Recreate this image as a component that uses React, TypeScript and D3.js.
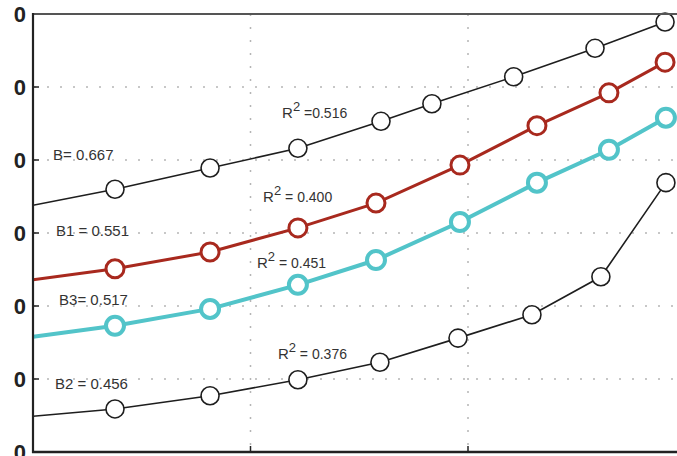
import React from "react";
import * as d3 from "d3";

const W = 677;
const H = 456;

// x positions (shared domain 0..30), first point sits on the axis (no marker)
const xTop = [0, 3.77, 8.14, 12.18, 16.0, 18.34, 22.1, 25.84, 29.06];
const yTop = [33.8, 36.0, 38.9, 41.6, 45.3, 47.7, 51.4, 55.3, 58.9];

const xRed = [0, 3.77, 8.14, 12.18, 15.77, 19.63, 23.17, 26.48, 29.06];
const yRed = [23.6, 25.1, 27.4, 30.7, 34.1, 39.3, 44.7, 49.2, 53.4];

const xCyan = [0, 3.77, 8.14, 12.18, 15.77, 19.63, 23.17, 26.48, 29.1];
const yCyan = [15.8, 17.3, 19.6, 22.9, 26.3, 31.5, 36.9, 41.4, 45.8];

const xBot = [0, 3.77, 8.14, 12.18, 15.95, 19.54, 22.94, 26.11, 29.1];
const yBot = [4.9, 5.9, 7.7, 9.9, 12.3, 15.6, 18.8, 24.0, 36.9];

const yTicks = [0, 10, 20, 30, 40, 50, 60];
const yTickLabels = ["0", "0", "0", "0", "0", "0", "0"];
const xTicks = [10, 20];

const bLabels = ["B= 0.667", "B1 = 0.551", "B3= 0.517", "B2 = 0.456"];
const bLabelY = [40.0, 29.6, 20.1, 8.6];
const bLabelX = [0.92, 1.06, 1.2, 1.01];

const rValues = ["=0.516", "= 0.400", "= 0.451", "= 0.376"];
const rLabelX = [11.45, 10.58, 10.3, 11.26];
const rLabelY = [45.75, 34.25, 25.2, 12.8];

export default function App() {
  const x = d3.scaleLinear().domain([0, 30]).range([33, 685.5]);
  const y = d3.scaleLinear().domain([0, 60]).range([452, 14]);

  const series = [
    { xs: xTop, ys: yTop, color: "#1e1e1e", lw: 1.6, mw: 1.6 },
    { xs: xRed, ys: yRed, color: "#a8291e", lw: 3, mw: 3 },
    { xs: xCyan, ys: yCyan, color: "#52c4c9", lw: 4, mw: 4 },
    { xs: xBot, ys: yBot, color: "#1e1e1e", lw: 1.6, mw: 1.6 },
  ];

  const line = d3
    .line<[number, number]>()
    .x((d) => x(d[0]))
    .y((d) => y(d[1]));

  const font = "'Liberation Sans', Arial, sans-serif";

  return (
    <svg
      width={W}
      height={H}
      style={{ position: "absolute", left: 0, top: 0, background: "#fff" }}
    >
      <defs>
        <clipPath id="plot">
          <rect x={33} y={0} width={W} height={452} />
        </clipPath>
      </defs>
      {/* grid */}
      {yTicks.slice(1, -1).map((t) => (
        <line
          key={"gy" + t}
          x1={34}
          x2={W}
          y1={y(t)}
          y2={y(t)}
          stroke="#b5b5b5"
          strokeWidth={1.5}
          strokeDasharray="2,11"
        />
      ))}
      {xTicks.map((t) => (
        <line
          key={"gx" + t}
          x1={x(t)}
          x2={x(t)}
          y1={14}
          y2={452}
          stroke="#b5b5b5"
          strokeWidth={1.5}
          strokeDasharray="2,11"
        />
      ))}
      {/* ticks */}
      {yTicks.map((t) => (
        <line key={"ty" + t} x1={33} x2={39} y1={y(t)} y2={y(t)} stroke="#222" strokeWidth={1.5} />
      ))}
      {xTicks.map((t) => (
        <line key={"tx" + t} x1={x(t)} x2={x(t)} y1={452} y2={446} stroke="#222" strokeWidth={1.5} />
      ))}
      {/* tick labels */}
      {yTicks.map((t, i) => (
        <text
          key={"l" + t}
          x={26}
          y={y(t)}
          textAnchor="end"
          dominantBaseline="central"
          fontFamily={font}
          fontWeight="bold"
          fontSize={22}
          fill="#222"
        >
          {yTickLabels[i]}
        </text>
      ))}
      {/* annotations */}
      {bLabels.map((s, i) => (
        <text
          key={s}
          x={x(bLabelX[i])}
          y={y(bLabelY[i])}
          fontFamily={font}
          fontSize={15}
          fill="#333"
        >
          {s}
        </text>
      ))}
      {rValues.map((s, i) => (
        <text
          key={s}
          x={x(rLabelX[i])}
          y={y(rLabelY[i])}
          fontFamily={font}
          fontSize={14}
          fill="#333"
        >
          <tspan fontSize={15}>R</tspan>
          <tspan fontSize={13} dy={-7}>2</tspan>
          <tspan dy={7}>{" " + s}</tspan>
        </text>
      ))}
      {/* series */}
      <g clipPath="url(#plot)">
        {series.map((s, si) => {
          const pts = s.xs.map((v, i) => [v, s.ys[i]] as [number, number]);
          return (
            <g key={si}>
              <path d={line(pts) || ""} fill="none" stroke={s.color} strokeWidth={s.lw} />
              {pts.slice(1).map((p, i) => (
                <circle
                  key={i}
                  cx={x(p[0])}
                  cy={y(p[1])}
                  r={9}
                  fill="#fff"
                  stroke={s.color}
                  strokeWidth={s.mw}
                />
              ))}
            </g>
          );
        })}
      </g>
      {/* frame */}
      <line x1={33} x2={W} y1={14} y2={14} stroke="#555" strokeWidth={2} />
      <line x1={33} x2={33} y1={13} y2={453} stroke="#222" strokeWidth={2.2} />
      <line x1={32} x2={W} y1={452} y2={452} stroke="#222" strokeWidth={2.5} />
    </svg>
  );
}
